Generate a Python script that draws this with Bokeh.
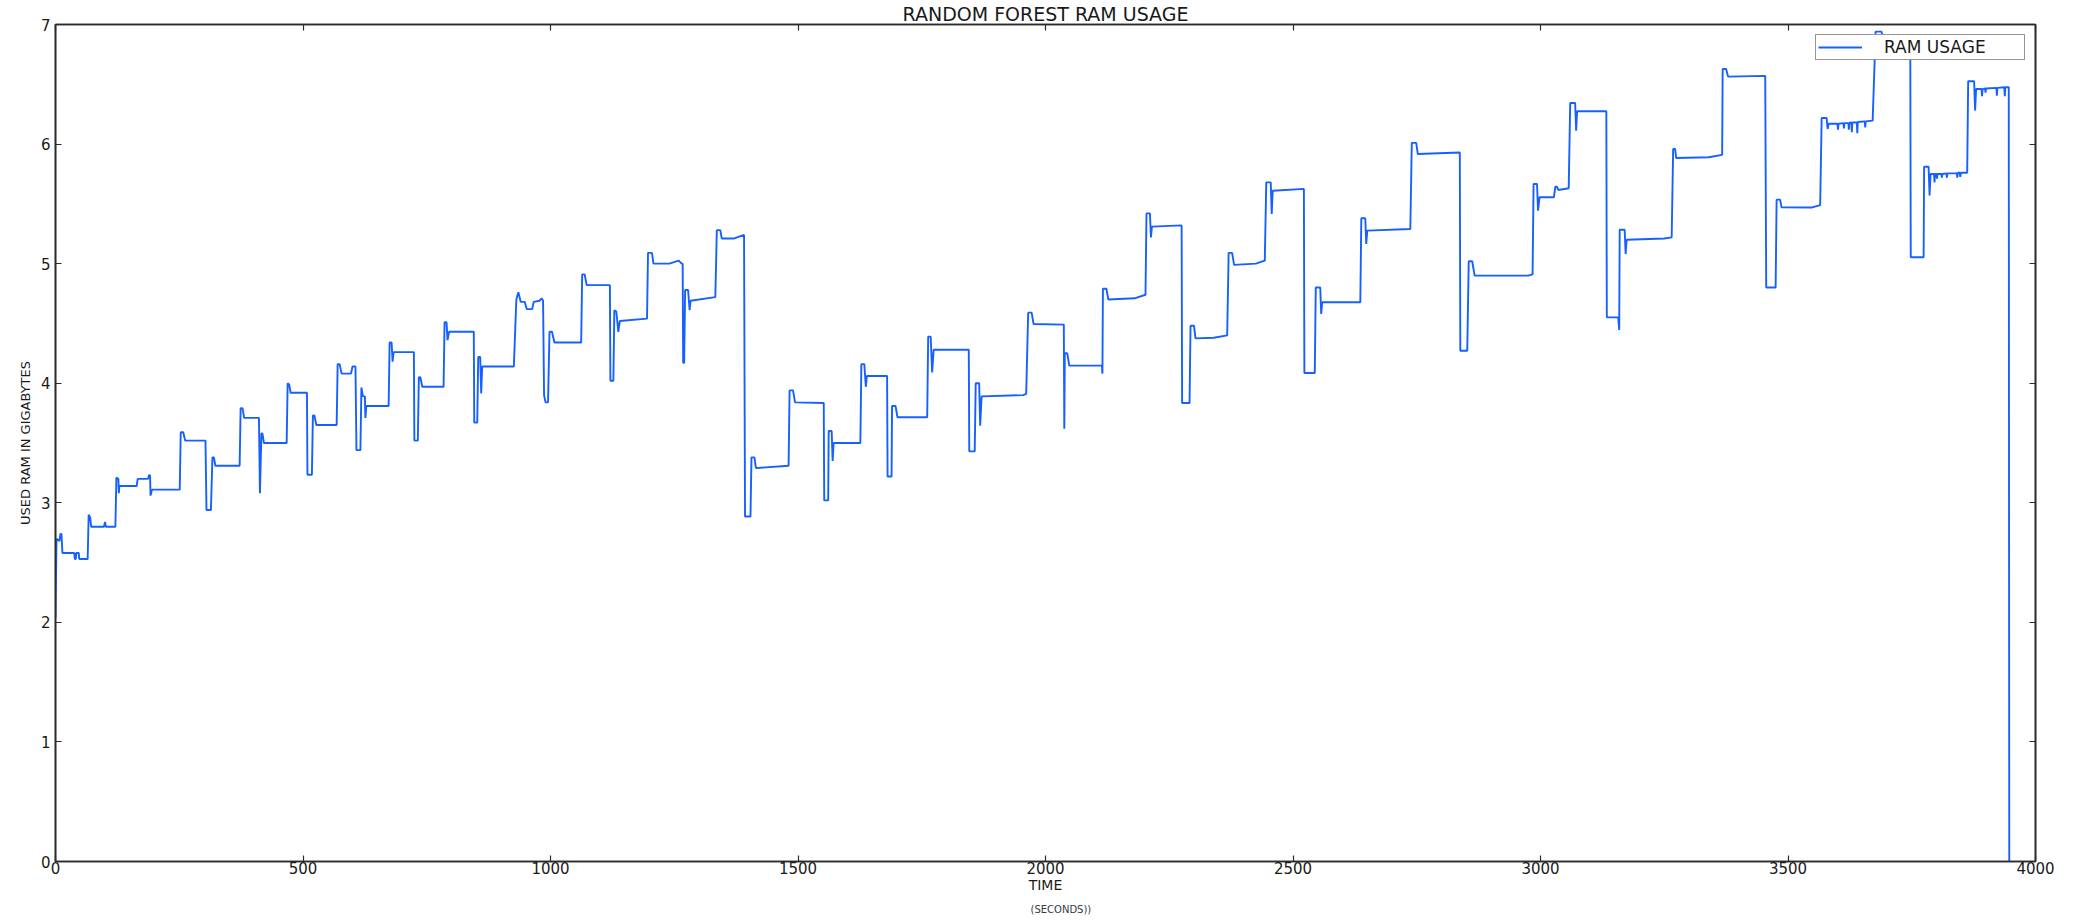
from bokeh.plotting import figure
from bokeh.models import Range1d, LinearAxis, FixedTicker, Legend, LegendItem, Title
from bokeh.embed import file_html
from bokeh.resources import INLINE

# ---------------- data (time in seconds, used RAM in GB) ----------------
RAM_SAMPLES = [
    (0, 2.04), (2, 2.70), (8, 2.68), (10, 2.74), (12, 2.74), (14, 2.58), (38, 2.58),
    (39, 2.53), (41, 2.53), (42, 2.58), (47, 2.58), (48, 2.53), (65, 2.53), (67, 2.90),
    (70, 2.88), (72, 2.80), (98, 2.80), (100, 2.84), (102, 2.80), (121, 2.80), (123, 3.21),
    (127, 3.20), (128, 3.08), (129, 3.14), (164, 3.14), (166, 3.20), (187, 3.20), (189, 3.23),
    (191, 3.23), (192, 3.06), (195, 3.11), (251, 3.11), (253, 3.59), (258, 3.59), (262, 3.52),
    (303, 3.52), (305, 2.94), (314, 2.94), (317, 3.38), (320, 3.38), (323, 3.31), (372, 3.31),
    (374, 3.79), (378, 3.79), (381, 3.71), (411, 3.71), (413, 3.08), (416, 3.58), (418, 3.58),
    (421, 3.50), (467, 3.50), (469, 4.00), (472, 3.99), (475, 3.92), (508, 3.92),
    (509, 3.235), (518, 3.235), (520, 3.73), (523, 3.73), (527, 3.65), (568, 3.65), (570, 4.16),
    (574, 4.16), (578, 4.08), (597, 4.08), (600, 4.14), (606, 4.14), (608, 3.44), (616, 3.44),
    (618, 3.965), (621, 3.89), (625, 3.89), (626, 3.71), (628, 3.81), (673, 3.81), (675, 4.34),
    (679, 4.34), (681, 4.18), (683, 4.26), (724, 4.26), (725, 3.52), (732, 3.52), (734, 4.05),
    (737, 4.05), (741, 3.97), (784, 3.97), (786, 4.51), (790, 4.51), (792, 4.36), (795, 4.43),
    (845, 4.43), (846, 3.67), (852, 3.67), (854, 4.22), (858, 4.22), (860, 3.915), (862, 4.14),
    (926, 4.14), (931, 4.70), (935, 4.76), (940, 4.68), (948, 4.68), (952, 4.62), (963, 4.62),
    (966, 4.68), (978, 4.69), (982, 4.71), (985, 4.69), (987, 3.90), (990, 3.84), (995, 3.84),
    (998, 4.43), (1003, 4.43), (1008, 4.34),
    (1062, 4.34), (1064, 4.91), (1069, 4.91), (1073, 4.82), (1120, 4.82), (1121, 4.02),
    (1127, 4.02), (1129, 4.61), (1133, 4.60), (1137, 4.43), (1140, 4.52), (1195, 4.54),
    (1197, 5.09), (1205, 5.09), (1208, 5.00), (1240, 5.00), (1259, 5.025), (1265, 5.00),
    (1267, 5.00), (1268, 4.17), (1270, 4.17), (1272, 4.78), (1278, 4.78), (1281, 4.61),
    (1283, 4.69), (1333, 4.72), (1336, 5.28), (1343, 5.28), (1346, 5.21), (1370, 5.21),
    (1391, 5.24), (1393, 2.885), (1404, 2.885), (1406, 3.38), (1412, 3.38), (1415, 3.29),
    (1481, 3.31), (1483, 3.94), (1490, 3.94), (1494, 3.84),
    (1552, 3.835), (1553, 3.02), (1561, 3.02), (1562, 3.60), (1568, 3.60), (1570, 3.35),
    (1572, 3.50), (1626, 3.50), (1628, 4.16), (1634, 4.16), (1637, 3.97), (1639, 4.06),
    (1680, 4.06), (1681, 3.22), (1689, 3.22), (1690, 3.81), (1697, 3.81), (1701, 3.715),
    (1761, 3.715), (1763, 4.39), (1768, 4.39), (1771, 4.09), (1774, 4.28), (1845, 4.28),
    (1846, 3.43), (1857, 3.43), (1859, 4.00), (1866, 4.00), (1868, 3.645), (1871, 3.89),
    (1955, 3.90), (1961, 3.91), (1965, 4.59), (1972, 4.59), (1976, 4.495),
    (2037, 4.49), (2038, 3.62), (2039, 4.25), (2044, 4.25), (2048, 4.147), (2114, 4.147),
    (2115, 4.08), (2116, 4.79), (2123, 4.79), (2127, 4.70), (2180, 4.71), (2202, 4.74),
    (2204, 5.42), (2211, 5.42), (2213, 5.22), (2215, 5.31), (2275, 5.32), (2276, 3.835),
    (2291, 3.835), (2293, 4.48), (2300, 4.48), (2303, 4.375), (2340, 4.38), (2367, 4.40),
    (2370, 5.09), (2377, 5.09), (2381, 4.99), (2425, 5.00), (2443, 5.025), (2446, 5.68),
    (2455, 5.68), (2457, 5.415), (2459, 5.61), (2522, 5.625),
    (2523, 4.086), (2544, 4.086), (2546, 4.80), (2555, 4.80), (2557, 4.58), (2559, 4.677),
    (2636, 4.677), (2638, 5.38), (2646, 5.38), (2648, 5.164), (2650, 5.276), (2737, 5.29),
    (2740, 6.01), (2749, 6.01), (2752, 5.917), (2837, 5.93), (2838, 4.272), (2852, 4.272),
    (2855, 5.02), (2862, 5.02), (2867, 4.90), (2975, 4.90), (2984, 4.91), (2986, 5.666),
    (2993, 5.666), (2995, 5.443), (2998, 5.555),
    (3027, 5.555), (3030, 5.644), (3033, 5.644), (3036, 5.616), (3057, 5.63), (3060, 6.343),
    (3070, 6.343), (3072, 6.112), (3074, 6.274), (3133, 6.274), (3134, 4.551), (3157, 4.551),
    (3159, 4.445), (3160, 5.284), (3170, 5.284), (3172, 5.08), (3174, 5.20), (3250, 5.21),
    (3265, 5.22), (3268, 5.959), (3272, 5.959), (3274, 5.884), (3340, 5.89), (3367, 5.91),
    (3368, 6.628), (3375, 6.628), (3379, 6.564), (3454, 6.57), (3456, 4.80), (3475, 4.80),
    (3477, 5.535), (3484, 5.535), (3487, 5.471),
    (3549, 5.47), (3565, 5.49), (3568, 6.218), (3578, 6.218), (3580, 6.126), (3582, 6.17),
    (3600, 6.17), (3601, 6.12), (3602, 6.17), (3612, 6.175), (3613, 6.13), (3614, 6.175),
    (3622, 6.175), (3623, 6.12), (3624, 6.178), (3628, 6.18), (3629, 6.10), (3630, 6.18),
    (3639, 6.18), (3640, 6.09), (3641, 6.185), (3655, 6.19), (3656, 6.14), (3657, 6.19),
    (3671, 6.196), (3677, 6.94), (3689, 6.94), (3692, 6.87), (3747, 6.87), (3748, 5.053),
    (3774, 5.053), (3775, 5.81), (3784, 5.81), (3786, 5.57), (3788, 5.75), (3795, 5.75),
    (3796, 5.68), (3797, 5.75), (3800, 5.75), (3801, 5.71), (3802, 5.75), (3810, 5.75),
    (3811, 5.72), (3812, 5.75), (3820, 5.755), (3821, 5.72), (3822, 5.755), (3841, 5.755),
    (3842, 5.72), (3843, 5.76), (3847, 5.76), (3848, 5.725), (3849, 5.76), (3862, 5.76),
    (3864, 6.525), (3876, 6.525), (3878, 6.28), (3880, 6.46), (3891, 6.46), (3892, 6.40),
    (3893, 6.46), (3898, 6.465), (3899, 6.43), (3900, 6.465), (3921, 6.47), (3922, 6.405),
    (3923, 6.47), (3937, 6.475), (3938, 6.40), (3939, 6.475), (3946, 6.475), (3947, 0.0),
]
TIME_S = [s[0] for s in RAM_SAMPLES]
RAM_GB = [s[1] for s in RAM_SAMPLES]

X_TICKS = [0, 500, 1000, 1500, 2000, 2500, 3000, 3500, 4000]
Y_TICKS = [0, 1, 2, 3, 4, 5, 6, 7]
X_MAX, Y_MAX = 4000, 7

TITLE = "RANDOM FOREST RAM USAGE"
X_LABEL = "TIME"
X_SUBLABEL = "(SECONDS))"
Y_LABEL = "USED RAM IN GIGABYTES"
SERIES_NAME = "RAM USAGE"

# ---------------- styling / layout ----------------
FONT = "DejaVu Sans"
BLUE = "#1660ff"
INK = "#1a1a1a"
FRAME = "#2b2b2b"
FW, FH = 1980, 837
BL, BR, BT, BB = 55, 33, 24, 61

p = figure(frame_width=FW, frame_height=FH,
           x_range=Range1d(0, X_MAX), y_range=Range1d(0, Y_MAX),
           output_backend="svg", toolbar_location=None,
           min_border_left=BL, min_border_right=BR,
           min_border_top=BT, min_border_bottom=BB)
p.background_fill_color = "white"
p.border_fill_color = "white"
p.outline_line_color = FRAME
p.outline_line_width = 1.6
p.grid.visible = False

# title
p.title.text = TITLE
p.title.align = "center"
p.title.text_font = FONT
p.title.text_font_size = "19px"
p.title.text_font_style = "normal"
p.title.text_color = INK
p.title.standoff = 0

for ax, ticks in ((p.xaxis[0], X_TICKS), (p.yaxis[0], Y_TICKS)):
    ax.ticker = FixedTicker(ticks=ticks)
    ax.major_tick_in = 6
    ax.major_tick_out = 0
    ax.minor_tick_line_color = None
    ax.major_tick_line_color = FRAME
    ax.major_tick_line_width = 1.2
    ax.axis_line_color = FRAME
    ax.axis_line_width = 1.6
    ax.major_label_text_font = FONT
    ax.major_label_text_font_size = "15px"
    ax.major_label_text_color = INK
    ax.axis_label_text_font = FONT
    ax.axis_label_text_font_style = "normal"
    ax.axis_label_text_color = INK
p.xaxis.major_label_standoff = 0
p.yaxis.major_label_standoff = 5
p.xaxis.axis_label = X_LABEL
p.xaxis.axis_label_text_font_size = "14px"
p.xaxis.axis_label_standoff = 0
p.yaxis.axis_label = Y_LABEL
p.yaxis.axis_label_text_font_size = "13px"
p.yaxis.axis_label_standoff = 5

# mirrored ticks on top and right (matplotlib style)
for place, ticks in (("above", X_TICKS), ("right", Y_TICKS)):
    ax = LinearAxis(ticker=FixedTicker(ticks=ticks),
                    major_label_overrides={t: "" for t in ticks},
                    major_tick_in=6, major_tick_out=0,
                    minor_tick_line_color=None,
                    major_tick_line_color=FRAME, major_tick_line_width=1.2,
                    axis_line_color=FRAME, axis_line_width=1.6,
                    major_label_standoff=0,
                    major_label_text_font_size="1px")
    p.add_layout(ax, place)

# small "(SECONDS))" note under the axis label
sub = Title(text=X_SUBLABEL, align="left", offset=975, standoff=12,
            text_font=FONT, text_font_size="10px", text_font_style="normal",
            text_color="#333a44")
p.add_layout(sub, "below")

r = p.line(TIME_S, RAM_GB, line_color=BLUE, line_width=1.9)

legend = Legend(items=[LegendItem(label=SERIES_NAME, renderers=[r])],
                location="top_right", margin=10, padding=2, spacing=0,
                glyph_width=44, glyph_height=16, label_height=16, label_width=138,
                label_standoff=22,
                label_text_font=FONT, label_text_font_size="17px",
                label_text_color=INK,
                border_line_color=FRAME, border_line_width=1.5,
                background_fill_color="white", background_fill_alpha=1.0)
p.add_layout(legend)

open("out.html", "w").write(file_html(p, INLINE))
